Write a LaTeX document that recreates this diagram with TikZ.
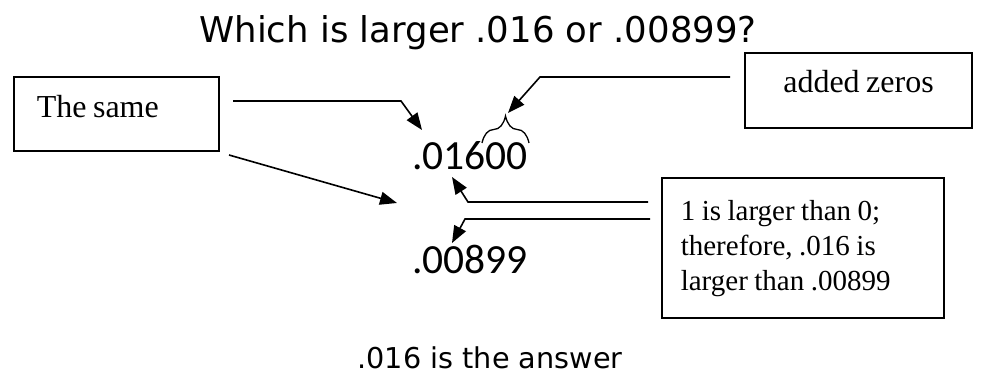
\documentclass[tikz,border=0pt]{standalone}
\usepackage{fontspec}
\setmainfont{Liberation Serif}
\newfontfamily\titlefont{DejaVu Sans}
\newfontfamily\numfont{Carlito}
\usetikzlibrary{arrows.meta,decorations.pathreplacing}
\tikzset{
  conn/.style={line width=1.6pt,-{Triangle[length=17pt,width=13pt]}},
  boxnode/.style={draw,line width=1.6pt,inner xsep=0pt,inner ysep=0pt},
}
\newcommand\myspc{\spaceskip=6.5pt\relax}
\begin{document}
\begin{tikzpicture}[x=1pt,y=-1pt]
\useasboundingbox (0,0) rectangle (1001,379);
% title and result
\node[anchor=base,inner sep=0pt,font=\titlefont\fontsize{35.5}{40}\selectfont] (title) at (478,43) {Which is larger .016 or .00899?};
\node[anchor=base,inner sep=0pt,font=\titlefont\fontsize{28.7}{34}\selectfont] (answer) at (490,368) {.016 is the answer};
% numbers
\node[anchor=base,inner sep=0pt,font=\numfont\fontsize{41.5}{48}\selectfont] (numA) at (470,170) {.01600};
\node[anchor=base,inner sep=0pt,font=\numfont\fontsize{41.5}{48}\selectfont] (numB) at (470,274) {.00899};
% boxes
\node[boxnode,anchor=base west,text width=159pt,align=left,inner xsep=23pt,
      text height=41pt,text depth=33pt,font=\fontsize{32}{38}\selectfont] (same) at (13,118)
      {\myspc The same};
\node[boxnode,anchor=base,text width=227pt,align=center,
      text height=40pt,text depth=35pt,font=\fontsize{32}{38}\selectfont] (zeros) at (858.5,93)
      {\myspc added zeros};
\node[boxnode,anchor=north west,text width=244pt,align=left,inner xsep=19pt,
      font=\fontsize{29}{35}\selectfont] (why) at (661,177)
      {\myspc\rule{0pt}{43pt}1 is larger than 0;\\ \myspc therefore, .016 is\\ \myspc larger than .00899\rule[-27pt]{0pt}{0pt}};
% brace over the added zeros
\coordinate (bl) at (482,143);
\coordinate (br) at (529,143);
\draw[line width=1.3pt,decoration={brace,amplitude=27pt,aspect=0.5},decorate] (bl) -- (br);
% connector anchors
\coordinate (s1) at (233,101);
\coordinate (k1) at (401,101);
\coordinate (t1) at (422,130);
\coordinate (s2) at (229,155);
\coordinate (t2) at (397,203);
\coordinate (s3) at (730,77);
\coordinate (k3) at (540,77);
\coordinate (t3) at (508,113);
\coordinate (s4) at (648,202);
\coordinate (k4) at (468,202);
\coordinate (t4) at (452,177);
\coordinate (s5) at (650,219);
\coordinate (k5) at (465,219);
\coordinate (t5) at (452,243);
% connectors
\draw[conn] (s1) -- (k1) -- (t1);
\draw[conn] (s2) -- (t2);
\draw[conn] (s3) -- (k3) -- (t3);
\draw[conn] (s4) -- (k4) -- (t4);
\draw[conn] (s5) -- (k5) -- (t5);
\end{tikzpicture}
\end{document}
